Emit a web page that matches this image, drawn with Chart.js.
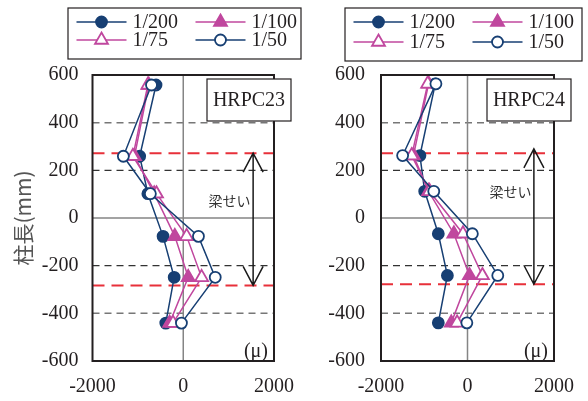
<!DOCTYPE html>
<html>
<head>
<meta charset="utf-8">
<script src="https://cdn.jsdelivr.net/npm/chart.js@4.4.1/dist/chart.umd.min.js"></script>
<style>
  html, body { margin: 0; padding: 0; background: #fff; }
  #wrap { position: relative; width: 588px; height: 401px; }
  #wrap canvas { position: absolute; left: 0; top: 0; }
</style>
</head>
<body>
<div id="wrap">
  <canvas id="c23" width="588" height="401"></canvas>
  <canvas id="c24" width="588" height="401"></canvas>
</div>
<script>
const seriesLabels = ['1/200', '1/100', '1/75', '1/50'];
const yTickValues = [-600, -400, -200, 0, 200, 400, 600];
const xTickValues = [-2000, 0, 2000];

// HRPC23: gauge heights (mm) and strains (μ) per drift
const heights23 = [558, 259, 102, -77, -249, -441];
const strain23_200 = [-600, -960, -780, -445, -200, -385];
const strain23_100 = [-760, -1075, -640, -185, 110, -300];
const strain23_75 = [-780, -1110, -590, 75, 405, -225];
const strain23_50 = [-700, -1320, -725, 335, 705, -40];

// HRPC24
const heights24 = [563, 262, 112, -66, -241, -440];
const strain24_200 = [-745, -1100, -990, -675, -465, -675];
const strain24_100 = [-900, -1250, -900, -315, 45, -375];
const strain24_75 = [-920, -1290, -880, -105, 345, -240];
const strain24_50 = [-730, -1500, -780, 112, 700, -15];

// beam depth (梁せい) bounds and reference lines
const beam23 = [272, -283];
const beam24 = [272, -278];
const darkDashed = [200, -200];
const grayDashed = [400, -400];

const NAVY = '#173f73';
const MAGENTA = '#c0479e';
const INK = '#231f20';
const SERIF = "'Liberation Serif', 'Times New Roman', serif";

Chart.defaults.font.family = SERIF;

function toPoints(xs, ys) {
  return xs.map((x, i) => ({ x: x, y: ys[i] }));
}

function makeDatasets(heights, s200, s100, s75, s50) {
  const styles = [
    { c: NAVY, fill: NAVY, shape: 'circle', r: 5.5, order: 4 },
    { c: MAGENTA, fill: MAGENTA, shape: 'triangle', r: 7.5, order: 3 },
    { c: MAGENTA, fill: '#fff', shape: 'triangle', r: 7.5, order: 2 },
    { c: NAVY, fill: '#fff', shape: 'circle', r: 5.5, order: 1 }
  ];
  return [s200, s100, s75, s50].map((vals, i) => ({
    label: seriesLabels[i],
    data: toPoints(vals, heights),
    showLine: true,
    tension: 0,
    borderColor: styles[i].c,
    borderWidth: 1.5,
    pointStyle: styles[i].shape,
    pointRadius: styles[i].r,
    pointBackgroundColor: styles[i].fill,
    pointBorderColor: styles[i].c,
    pointBorderWidth: 1.8,
    order: styles[i].order
  }));
}

// legend in a framed box, two columns
const boxLegend = {
  id: 'boxLegend',
  afterDraw(chart, args, o) {
    const ctx = chart.ctx;
    ctx.save();
    ctx.strokeStyle = INK;
    ctx.lineWidth = 1.2;
    ctx.strokeRect(o.x, o.y, o.w, o.h);
    ctx.font = '20px ' + SERIF;
    ctx.textBaseline = 'middle';
    ctx.textAlign = 'left';
    chart.data.datasets.forEach((ds, i) => {
      const col = i % 2, row = Math.floor(i / 2);
      const x0 = o.x + (col ? 127.5 : 8.5);
      const y = o.y + (row ? o.row2 : o.row1);
      ctx.strokeStyle = ds.borderColor;
      ctx.lineWidth = ds.borderWidth;
      ctx.setLineDash([]);
      ctx.beginPath();
      ctx.moveTo(x0, y);
      ctx.lineTo(x0 + 50, y);
      ctx.stroke();
      ctx.fillStyle = ds.pointBackgroundColor;
      ctx.strokeStyle = ds.pointBorderColor;
      ctx.lineWidth = ds.pointBorderWidth;
      Chart.helpers.drawPoint(ctx, {
        pointStyle: ds.pointStyle, radius: ds.pointRadius,
        borderWidth: ds.pointBorderWidth, rotation: 0
      }, x0 + 25, y);
      ctx.fillStyle = INK;
      ctx.fillText(ds.label, x0 + 56, y + 1);
    });
    ctx.restore();
  }
};

// reference lines, beam depth arrow, frame and labels
const deco = {
  id: 'deco',
  beforeDatasetsDraw(chart, args, o) {
    const ctx = chart.ctx, a = chart.chartArea;
    const xs = chart.scales.x, ys = chart.scales.y;
    const hline = (v, color, w, dash) => {
      const y = ys.getPixelForValue(v);
      ctx.strokeStyle = color; ctx.lineWidth = w; ctx.setLineDash(dash);
      ctx.beginPath(); ctx.moveTo(a.left, y); ctx.lineTo(a.right, y); ctx.stroke();
    };
    ctx.save();
    grayDashed.forEach(v => hline(v, '#777', 1.5, [7, 5]));
    darkDashed.forEach(v => hline(v, '#333', 1.2, [7, 5]));
    hline(0, '#858585', 1.5, []);
    const x0 = xs.getPixelForValue(0);
    ctx.beginPath(); ctx.moveTo(x0, a.top); ctx.lineTo(x0, a.bottom); ctx.stroke();
    o.beam.forEach(v => hline(v, '#e8303a', 2, [12, 7]));

    // double arrow for beam depth
    const ax = xs.getPixelForValue(o.arrowX);
    const yTop = ys.getPixelForValue(o.arrowTop);
    const yBot = ys.getPixelForValue(o.arrowBottom);
    ctx.setLineDash([]);
    ctx.strokeStyle = '#1a1a1a';
    ctx.lineWidth = 1.5;
    ctx.beginPath();
    ctx.moveTo(ax, yTop); ctx.lineTo(ax, yBot);
    ctx.moveTo(ax - 10, yTop + 19); ctx.lineTo(ax, yTop); ctx.lineTo(ax + 10, yTop + 19);
    ctx.moveTo(ax - 10, yBot - 19); ctx.lineTo(ax, yBot); ctx.lineTo(ax + 10, yBot - 19);
    ctx.stroke();

    ctx.fillStyle = '#333';
    ctx.font = '14px "Noto Sans CJK JP", sans-serif';
    ctx.textAlign = 'center';
    ctx.textBaseline = 'middle';
    ctx.fillText('梁せい', xs.getPixelForValue(o.beamLabel[0]), ys.getPixelForValue(o.beamLabel[1]));
    ctx.restore();
  },
  afterDraw(chart, args, o) {
    const ctx = chart.ctx, a = chart.chartArea;
    ctx.save();
    ctx.setLineDash([]);
    ctx.strokeStyle = INK;
    ctx.lineWidth = 2;
    ctx.strokeRect(a.left, a.top, a.right - a.left, a.bottom - a.top);

    // specimen name box
    const bx = a.right - 67, by = a.top + 4, bw = 84, bh = 42;
    ctx.fillStyle = '#fff';
    ctx.fillRect(bx, by, bw, bh);
    ctx.lineWidth = 1.2;
    ctx.strokeRect(bx, by, bw, bh);
    ctx.fillStyle = INK;
    ctx.font = '20px ' + SERIF;
    ctx.textAlign = 'center';
    ctx.textBaseline = 'middle';
    ctx.fillText(o.name, bx + bw / 2, by + bh / 2 + 1);

    ctx.textAlign = 'right';
    ctx.fillText('(μ)', a.right - 6, a.bottom - 9);
    ctx.restore();
  }
};

function makeChart(id, datasets, cfg) {
  return new Chart(document.getElementById(id), {
    type: 'scatter',
    data: { datasets: datasets },
    plugins: [deco, boxLegend],
    options: {
      responsive: false,
      animation: false,
      layout: { padding: cfg.padding },
      scales: {
        x: {
          type: 'linear', min: -2000, max: 2000,
          afterBuildTicks: s => { s.ticks = xTickValues.map(v => ({ value: v })); },
          afterFit: s => { s.height = 40; },
          grid: { display: false, drawTicks: false },
          border: { display: false },
          ticks: {
            padding: 14, color: INK, maxRotation: 0,
            font: { family: SERIF, size: 20 },
            callback: v => String(v)
          }
        },
        y: {
          type: 'linear', min: -600, max: 600,
          afterBuildTicks: s => { s.ticks = yTickValues.map(v => ({ value: v })); },
          afterFit: s => { s.width = cfg.yWidth; },
          grid: { display: false, drawTicks: false },
          border: { display: false },
          ticks: {
            padding: cfg.yPad, color: INK,
            font: { family: SERIF, size: 20 },
            callback: v => String(v)
          },
          title: {
            display: cfg.yTitle,
            text: '柱長(mm)',
            color: '#555',
            padding: { top: 10, bottom: 0 },
            font: { family: '"Noto Sans CJK JP", sans-serif', size: 21 }
          }
        }
      },
      plugins: {
        legend: { display: false },
        tooltip: { enabled: false },
        boxLegend: cfg.legend,
        deco: cfg.deco
      }
    }
  });
}

makeChart('c23', makeDatasets(heights23, strain23_200, strain23_100, strain23_75, strain23_50), {
  padding: { left: 0, right: 314, top: 75, bottom: 0 },
  yWidth: 92.5,
  yPad: 14,
  yTitle: true,
  legend: { x: 68, y: 8, w: 233, h: 51, row1: 14, row2: 32 },
  deco: { name: 'HRPC23', beam: beam23, arrowX: 1540, arrowTop: beam23[0], arrowBottom: beam23[1], beamLabel: [1020, 74] }
});

makeChart('c24', makeDatasets(heights24, strain24_200, strain24_100, strain24_75, strain24_50), {
  padding: { left: 321, right: 29, top: 75, bottom: 0 },
  yWidth: 60,
  yPad: 16,
  yTitle: false,
  legend: { x: 345, y: 8, w: 237, h: 53, row1: 14, row2: 34 },
  deco: { name: 'HRPC24', beam: beam24, arrowX: 1535, arrowTop: 290, arrowBottom: beam24[1], beamLabel: [995, 109] }
});
</script>
</body>
</html>
